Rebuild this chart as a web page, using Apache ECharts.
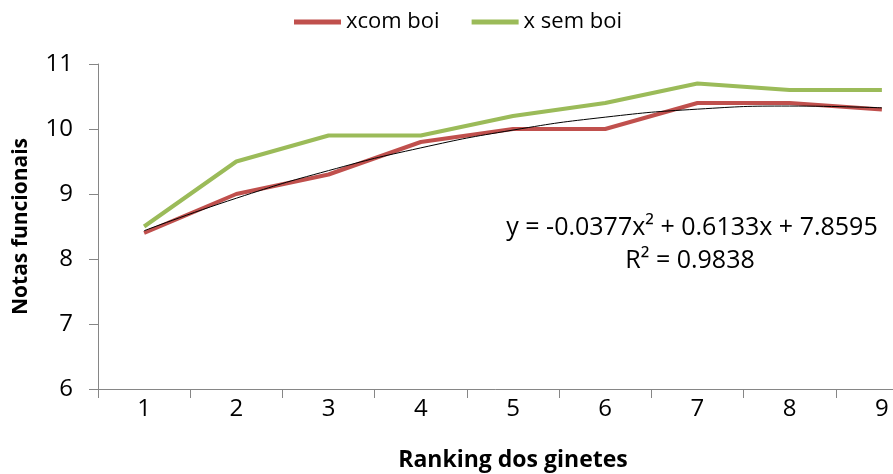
<!DOCTYPE html>
<html><head><meta charset="utf-8">
<script src="https://cdn.jsdelivr.net/npm/echarts@6/dist/echarts.min.js"></script>
<style>html,body{margin:0;padding:0;background:#fff}#c{width:893px;height:474px}</style>
</head><body><div id="c"></div>
<script>
var categories = ['1','2','3','4','5','6','7','8','9'];
var comBoi = [8.4, 9.0, 9.3, 9.8, 10.0, 10.0, 10.4, 10.4, 10.3];
var semBoi = [8.5, 9.5, 9.9, 9.9, 10.2, 10.4, 10.7, 10.6, 10.6];
var trendCoef = [-0.0377, 0.6133, 7.8595];
var eqText = 'y = -0.0377x² + 0.6133x + 7.8595';
var r2Text = 'R² = 0.9838';
var trend = categories.map(function(c){var x=+c;return trendCoef[0]*x*x+trendCoef[1]*x+trendCoef[2];});
var font = '"Open Sans", sans-serif';
var chart = echarts.init(document.getElementById('c'));
chart.setOption({
  animation:false,
  textStyle:{fontFamily:font},
  legend:{top:6,left:289,itemWidth:47,itemHeight:5,itemGap:32,icon:'rect',
    textStyle:{fontSize:22,color:'#000',fontFamily:font},
    data:['xcom boi','x sem boi']},
  grid:{left:98,right:-35,top:64,bottom:85,outerBoundsMode:'none',containLabel:false},
  xAxis:{type:'category',data:categories,boundaryGap:true,
    name:'Ranking dos ginetes',nameLocation:'middle',nameGap:60,
    nameTextStyle:{fontSize:23,fontWeight:'bold',color:'#000',fontFamily:font},
    axisLine:{lineStyle:{color:'#868686'}},axisTick:{show:true,length:9,lineStyle:{color:'#868686'}},
    axisLabel:{fontSize:24,color:'#000',margin:8,fontFamily:font},splitLine:{show:false}},
  yAxis:{type:'value',min:6,max:11,interval:1,
    name:'Notas funcionais',nameLocation:'middle',nameGap:66,
    nameTextStyle:{fontSize:21,fontWeight:'bold',color:'#000',fontFamily:font},
    axisLine:{show:true,lineStyle:{color:'#868686'}},axisTick:{show:true,length:9,lineStyle:{color:'#868686'}},
    axisLabel:{fontSize:24,color:'#000',margin:25,fontFamily:font},splitLine:{show:false}},
  series:[
    {name:'xcom boi',type:'line',data:comBoi,symbol:'none',lineStyle:{color:'#C0504D',width:4},itemStyle:{color:'#C0504D'},z:3},
    {name:'x sem boi',type:'line',data:semBoi,symbol:'none',lineStyle:{color:'#9BBB59',width:4},itemStyle:{color:'#9BBB59'},z:2},
    {name:'trend',type:'line',data:trend,symbol:'none',smooth:true,lineStyle:{color:'#000',width:1},z:4}
  ],
  graphic:[
    {type:'text',x:692,y:228,style:{text:eqText,fontSize:25,fill:'#000',fontFamily:font,align:'center',verticalAlign:'middle'}},
    {type:'text',x:690,y:261,style:{text:r2Text,fontSize:25,fill:'#000',fontFamily:font,align:'center',verticalAlign:'middle'}}
  ]
});
</script></body></html>
